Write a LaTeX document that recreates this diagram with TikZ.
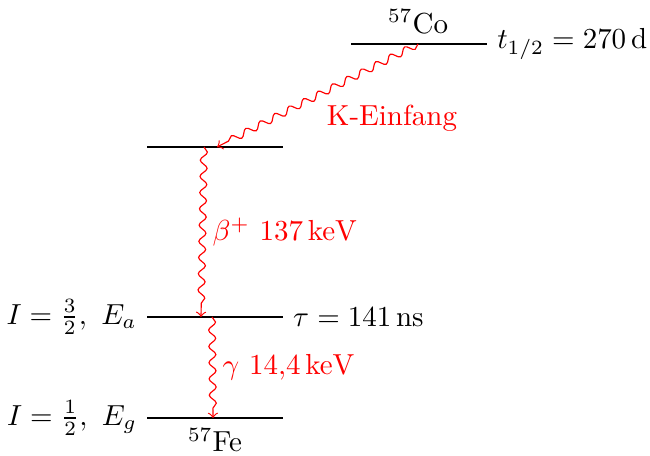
\documentclass[tikz,border=0pt]{standalone}
\usetikzlibrary{decorations.pathmorphing}
\begin{document}
\begin{tikzpicture}[x={(0.345pt,0)}, y={(0,-0.345pt)},
  level/.style={line width=0.9pt, black},
  wave/.style={red, ->, decorate, decoration={snake, segment length=5.6pt, amplitude=1.2pt, post length=2pt}},
  redlabel/.style={text=red}]
\useasboundingbox (0,0) rectangle (650,456);
% levels
\coordinate (coL) at (351,44); \coordinate (coR) at (487,44);
\coordinate (mL) at (147,147); \coordinate (mR) at (283,147);
\coordinate (aL) at (147,317); \coordinate (aR) at (283,317);
\coordinate (gL) at (147,418); \coordinate (gR) at (283,418);
\draw[level] (coL) -- (coR);
\draw[level] (mL) -- (mR);
\draw[level] (aL) -- (aR);
\draw[level] (gL) -- (gR);
% labels
\node[above] (colabel) at (418,44) {$^{57}$Co};
\node[right] (thalf) at (coR) {$t_{1/2}=270\,\mathrm{d}$};
\node[left] (ialabel) at (aL) {$I=\frac{3}{2},\ E_a$};
\node[right] (tau) at (aR) {$\tau=141\,\mathrm{ns}$};
\node[left] (iglabel) at (gL) {$I=\frac{1}{2},\ E_g$};
\node[below] (felabel) at (215,418) {$^{57}$Fe};
% transitions
\coordinate (k1) at (418,44); \coordinate (k2) at (217,147);
\coordinate (b1) at (204,147); \coordinate (b2) at (201,317);
\coordinate (g1) at (212,317); \coordinate (g2) at (213,418);
\draw[wave] (k1) -- (k2);
\node[redlabel] (klabel) at (392,118) {K-Einfang};
\draw[wave] (b1) -- node[right, redlabel] (blabel) {$\beta^+$ $137\,\mathrm{keV}$} (b2);
\draw[wave] (g1) -- node[right, redlabel] (glabel) {$\gamma$ $14{,}4\,\mathrm{keV}$} (g2);
\end{tikzpicture}
\end{document}
